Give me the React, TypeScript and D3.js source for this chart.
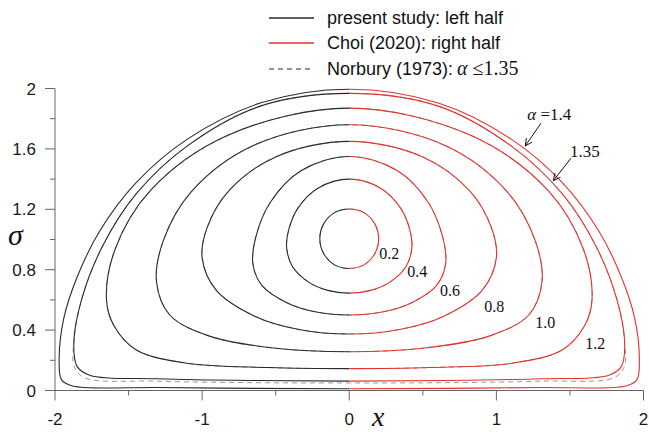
import React from "react";
import * as d3 from "d3";

type P = [number, number];

// right-half contour points (x, sigma), top -> bottom
const c02: P[] = [[0,1.202],[0.1,1.178],[0.173,1.105],[0.2,1.005],[0.173,0.905],[0.1,0.832],[0,0.808]];
const c04: P[] = [[0,1.4],[0.213,1.34],[0.349,1.208],[0.411,1.067],[0.426,0.95],[0.386,0.821],[0.274,0.716],[0.146,0.663],[0,0.645]];
const c06: P[] = [[0,1.55],[0.328,1.455],[0.536,1.247],[0.633,1.024],[0.655,0.84],[0.594,0.696],[0.421,0.58],[0.224,0.52],[0,0.5]];
const c08: P[] = [[0,1.65],[0.5,1.547],[0.819,1.322],[0.966,1.079],[1.0,0.88],[0.906,0.666],[0.643,0.492],[0.342,0.404],[0,0.374]];
const c10: P[] = [[0,1.76],[0.655,1.621],[1.073,1.317],[1.265,0.989],[1.31,0.72],[1.22,0.5],[0.95,0.36],[0.5,0.28],[0,0.257]];
const c12: P[] = [[0,1.87],[0.825,1.69],[1.351,1.325],[1.594,0.929],[1.65,0.6],[1.6,0.43],[1.45,0.27],[1.1,0.18],[0.55,0.152],[0,0.145]];
const c135: P[] = [[0,1.968],[0.6,1.885],[1.1,1.62],[1.45,1.3],[1.68,0.95],[1.82,0.6],[1.872,0.32],[1.85,0.16],[1.76,0.1],[1.3,0.078],[0.65,0.066],[0,0.062]];
const c14: P[] = [[0,1.995],[0.6,1.905],[1.1,1.665],[1.45,1.375],[1.7,1.05],[1.85,0.75],[1.94,0.48],[1.972,0.2],[1.955,0.07],[1.88,0.03],[1.3,0.02],[0.65,0.014],[0,0.012]];
// Norbury (1973) alpha = 1.35 (differs slightly near the axis)
const n135: P[] = [[0,1.968],[0.6,1.885],[1.1,1.62],[1.45,1.3],[1.68,0.95],[1.82,0.6],[1.872,0.32],[1.87,0.16],[1.8,0.085],[1.3,0.062],[0.65,0.052],[0,0.05]];

const presentCurves: P[][] = [c02, c04, c06, c08, c10, c12, c135, c14];
const norburyCurves: P[][] = [c02, c04, c06, c08, c10, c12, n135];

const contourLabels = ["0.2", "0.4", "0.6", "0.8", "1.0", "1.2"];
const contourLabelAt: P[] = [[0.204,0.871],[0.394,0.752],[0.617,0.626],[0.918,0.52],[1.264,0.414],[1.604,0.275]];

const xMajor = [-2, -1, 0, 1, 2];
const xMinor = [-1.5, -0.5, 0.5, 1.5];
const xTickLabels = ["-2", "-1", "0", "1", "2"];
const yMajor = [0, 0.4, 0.8, 1.2, 1.6, 2];
const yMinor = [0.2, 0.6, 1.0, 1.4, 1.8];
const yTickLabels = ["0", "0.4", "0.8", "1.2", "1.6", "2"];

const legendLabels = ["present study: left half", "Choi (2020): right half", "Norbury (1973):"];

const SANS = "'Liberation Sans', Arial, sans-serif";
const SERIF = "'Liberation Serif', 'Times New Roman', serif";
const BLACK = "#2b2b2b";
const RED = "#e5322d";
const AXIS = "#666";

export default function App() {
  const x = d3.scaleLinear().domain([-2, 2]).range([55, 643.5]);
  const y = d3.scaleLinear().domain([0, 2]).range([390.5, 88.5]);
  const line = d3
    .line<P>()
    .x((d) => x(d[0]))
    .y((d) => y(d[1]))
    .curve(d3.curveCatmullRomClosed.alpha(0.5));
  // closed symmetric outline: right half (top->bottom) then mirrored left half (bottom->top)
  const closed = (pts: P[]): P[] => {
    const left = pts.slice(1, -1).reverse().map((p) => [-p[0], p[1]] as P);
    return [...pts, ...left];
  };

  const arrow = (x1: number, y1: number, x2: number, y2: number) => {
    const ang = Math.atan2(y2 - y1, x2 - x1);
    const L = 8, a = 0.45;
    const p1 = [x2 - L * Math.cos(ang - a), y2 - L * Math.sin(ang - a)];
    const p2 = [x2 - L * Math.cos(ang + a), y2 - L * Math.sin(ang + a)];
    return `M${x1},${y1}L${x2},${y2}M${p1[0]},${p1[1]}L${x2},${y2}L${p2[0]},${p2[1]}`;
  };

  const legendY = [18, 43, 69];
  const x0 = x(0);

  return (
    <svg
      width={649}
      height={432}
      style={{ position: "absolute", left: 0, top: 0, background: "#fff" }}
    >
      <defs>
        <clipPath id="leftHalf">
          <rect x={0} y={0} width={x0} height={432} />
        </clipPath>
        <clipPath id="rightHalf">
          <rect x={x0} y={0} width={649 - x0} height={432} />
        </clipPath>
      </defs>

      {/* Norbury dashed (beneath) */}
      <g fill="none">
        {norburyCurves.map((c, i) => (
          <path
            key={"n" + i}
            d={line(closed(c)) || ""}
            stroke="#9a9a9a"
            strokeWidth={1}
            strokeDasharray="5 4"
          />
        ))}
      </g>
      {/* present study / Choi */}
      <g fill="none" strokeWidth={1.1}>
        <g clipPath="url(#leftHalf)">
          {presentCurves.map((c, i) => (
            <path key={"l" + i} d={line(closed(c)) || ""} stroke={BLACK} />
          ))}
        </g>
        <g clipPath="url(#rightHalf)">
          {presentCurves.map((c, i) => (
            <path key={"r" + i} d={line(closed(c)) || ""} stroke={RED} />
          ))}
        </g>
      </g>

      {/* axes */}
      <g stroke={AXIS} strokeWidth={1} fill="none">
        <line x1={x(-2)} x2={x(2)} y1={y(0)} y2={y(0)} />
        <line x1={x(-2)} x2={x(-2)} y1={y(0)} y2={y(2)} />
        {xMajor.map((v) => (
          <line key={"xm" + v} x1={x(v)} x2={x(v)} y1={y(0)} y2={y(0) + 10} />
        ))}
        {xMinor.map((v) => (
          <line key={"xn" + v} x1={x(v)} x2={x(v)} y1={y(0)} y2={y(0) + 5} />
        ))}
        {yMajor.map((v) => (
          <line key={"ym" + v} x1={x(-2) - 10} x2={x(-2)} y1={y(v)} y2={y(v)} />
        ))}
        {yMinor.map((v) => (
          <line key={"yn" + v} x1={x(-2) - 5} x2={x(-2)} y1={y(v)} y2={y(v)} />
        ))}
      </g>
      <g fontFamily={SANS} fontSize={17} fill="#1a1a1a">
        {xMajor.map((v, i) => (
          <text key={"xl" + v} x={x(v)} y={425} textAnchor="middle">
            {xTickLabels[i]}
          </text>
        ))}
        {yMajor.map((v, i) => (
          <text key={"yl" + v} x={36} y={y(v) + 6} textAnchor="end">
            {yTickLabels[i]}
          </text>
        ))}
      </g>
      <text x={8} y={245} fontFamily={SERIF} fontStyle="italic" fontSize={30} fill="#111">
        σ
      </text>
      <text x={372} y={426} fontFamily={SERIF} fontStyle="italic" fontSize={28} fill="#111">
        x
      </text>

      {/* contour labels */}
      <g fontFamily={SERIF} fontSize={16} fill="#111">
        {contourLabels.map((t, i) => (
          <text key={t} x={x(contourLabelAt[i][0])} y={y(contourLabelAt[i][1])}>
            {t}
          </text>
        ))}
      </g>

      {/* annotations */}
      <g fontFamily={SERIF} fontSize={17} fill="#111">
        <text x={x(1.21)} y={y(1.79)}>
          <tspan fontStyle="italic">α</tspan>
          <tspan> =1.4</tspan>
        </text>
        <text x={x(1.5)} y={y(1.546)}>1.35</text>
      </g>
      <g stroke="#111" strokeWidth={1} fill="none">
        <path d={arrow(x(1.303), y(1.77), x(1.196), y(1.619))} />
        <path d={arrow(x(1.507), y(1.538), x(1.387), y(1.389))} />
      </g>

      {/* legend */}
      <g>
        <line x1={269} x2={314} y1={legendY[0]} y2={legendY[0]} stroke={BLACK} strokeWidth={1.5} />
        <line x1={269} x2={314} y1={legendY[1]} y2={legendY[1]} stroke={RED} strokeWidth={1.5} />
        <line x1={269} x2={314} y1={legendY[2]} y2={legendY[2]} stroke={BLACK} strokeWidth={1.2} strokeDasharray="5 4" />
        <g fontFamily={SANS} fontSize={18} fill="#111">
          <text x={327} y={legendY[0] + 6}>{legendLabels[0]}</text>
          <text x={327} y={legendY[1] + 6}>{legendLabels[1]}</text>
          <text x={327} y={legendY[2] + 6}>{legendLabels[2]}</text>
        </g>
        <text x={457} y={legendY[2] + 6} fontFamily={SERIF} fontSize={20} fill="#111">
          <tspan fontStyle="italic">α</tspan>
          <tspan> ≤1.35</tspan>
        </text>
      </g>
    </svg>
  );
}
